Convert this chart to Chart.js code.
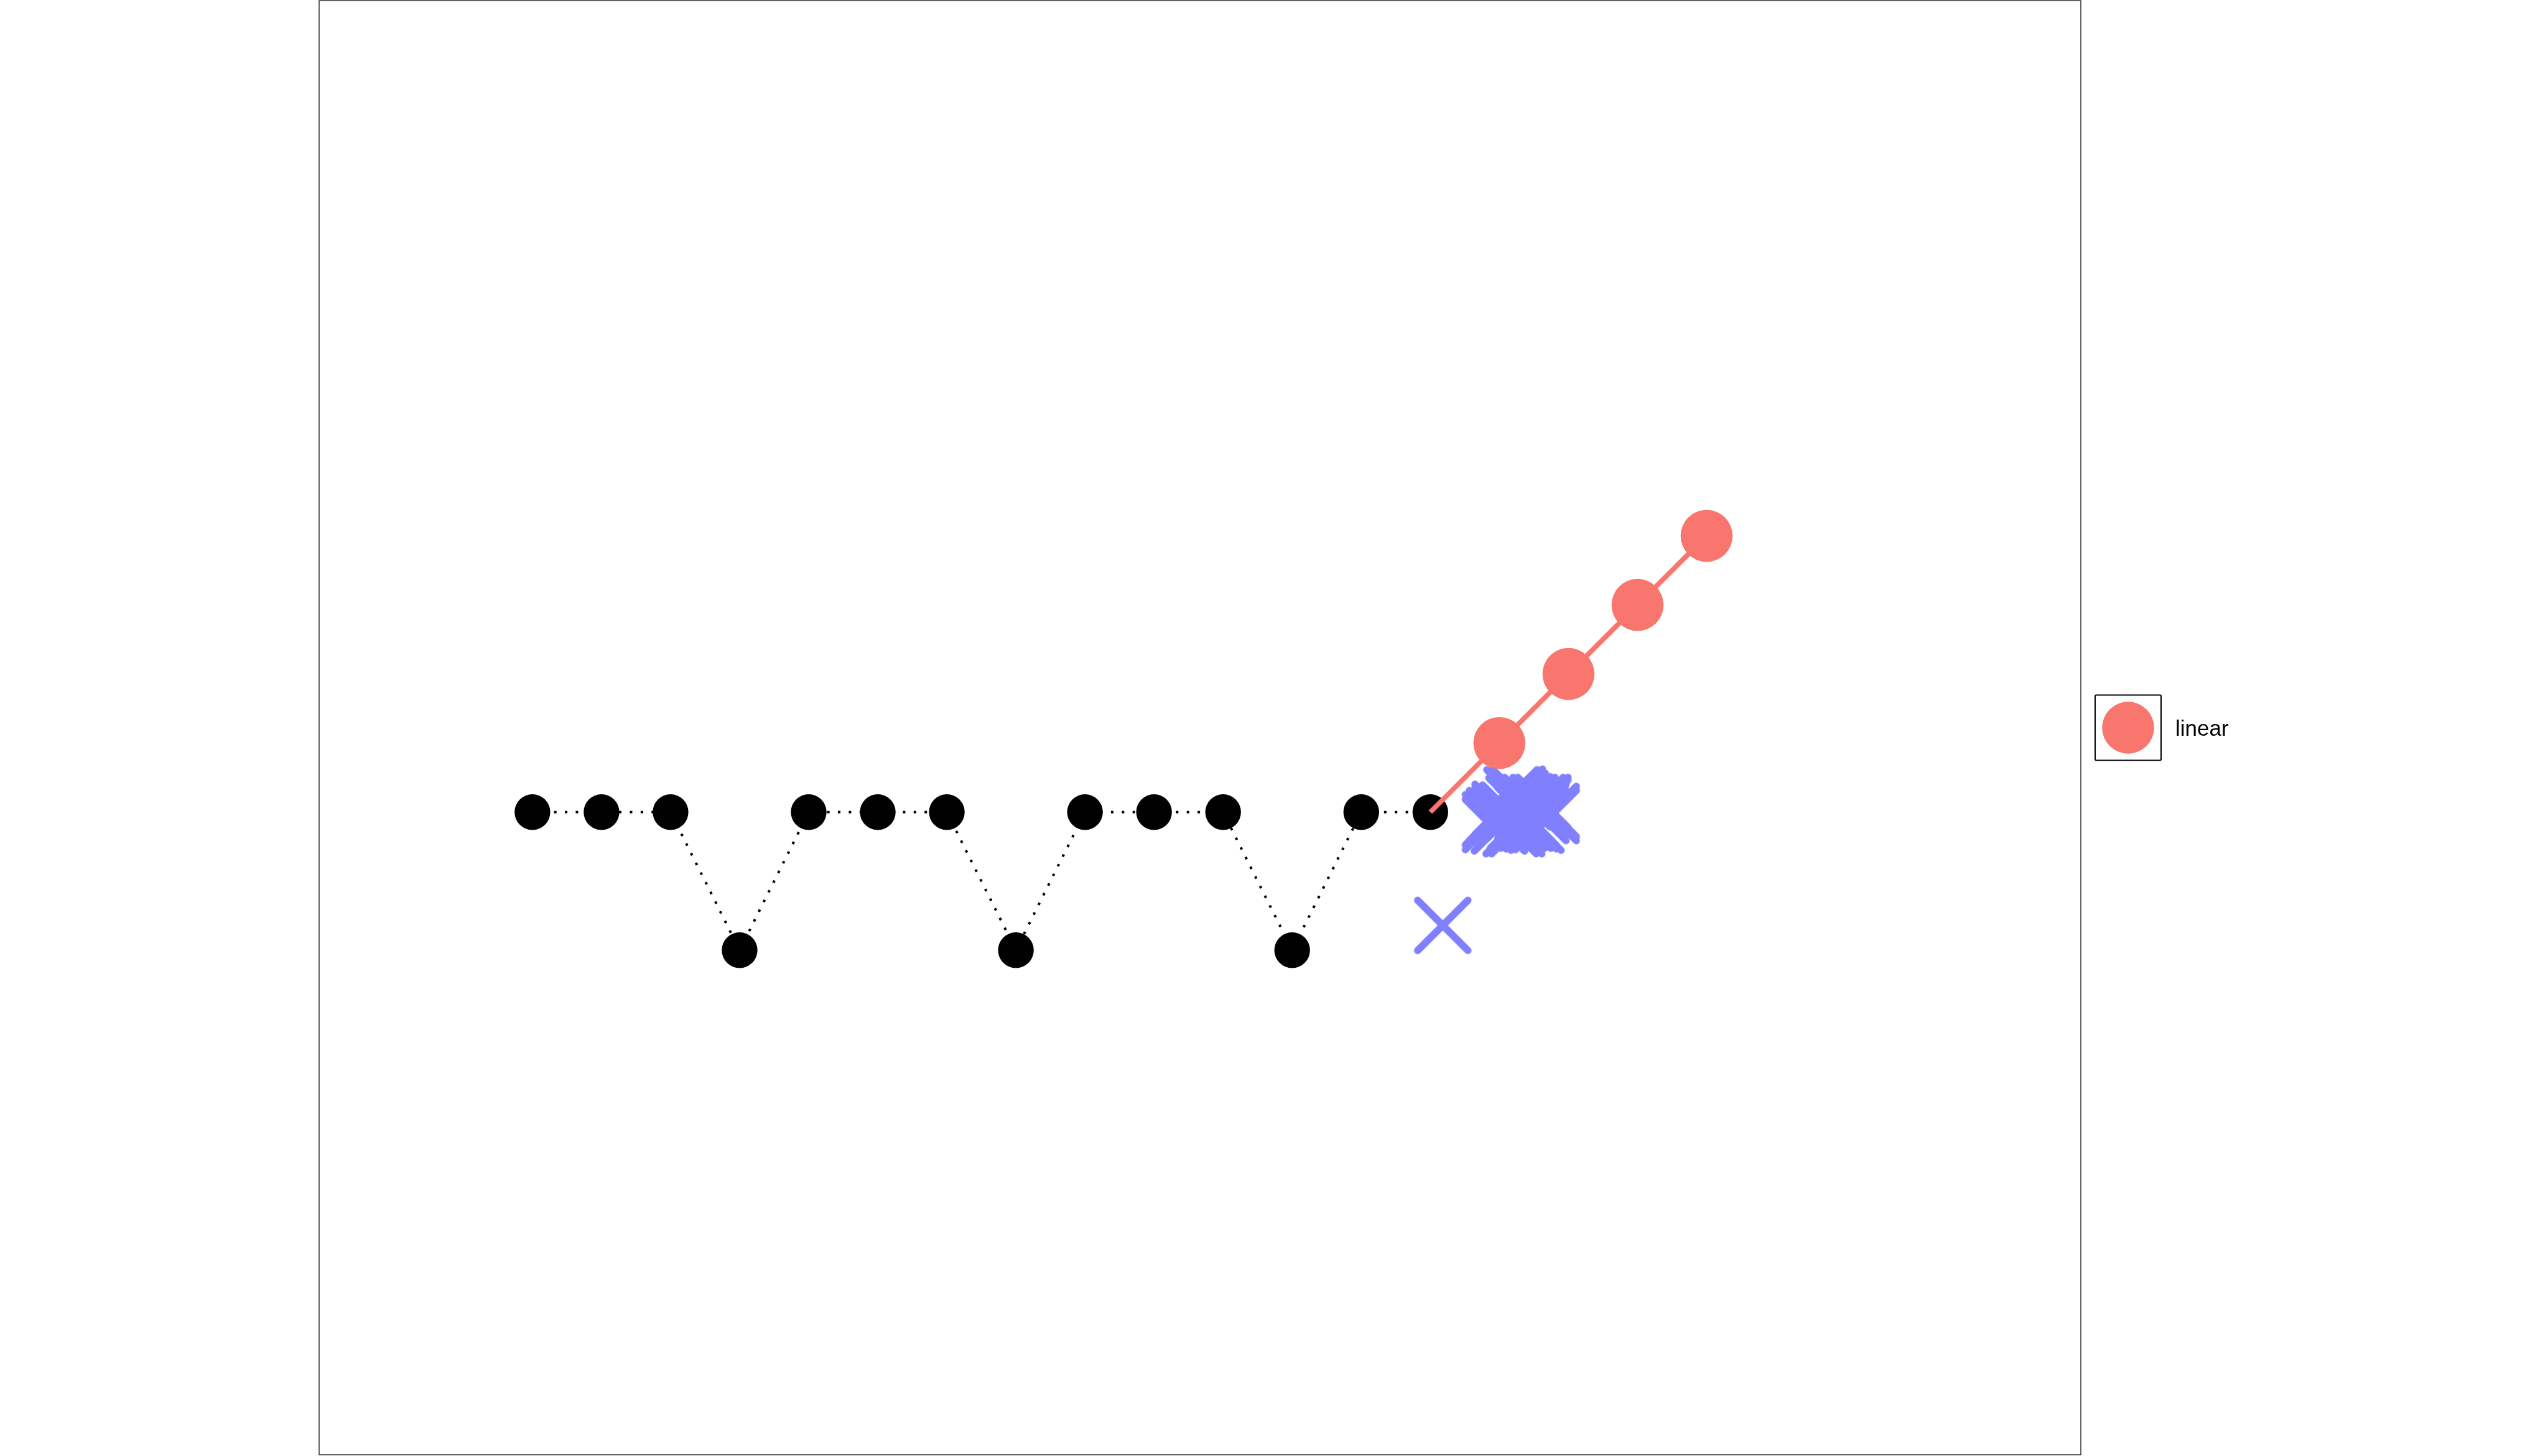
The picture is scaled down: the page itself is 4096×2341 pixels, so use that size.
<!DOCTYPE html>
<html><head><meta charset="utf-8">
<script src="https://cdn.jsdelivr.net/npm/chart.js@4.4.1/dist/chart.umd.min.js"></script>
<style>html,body{margin:0;padding:0;background:#fff;overflow:hidden}canvas{display:block}</style>
</head><body>
<canvas id="c" width="4096" height="2341"></canvas>
<script>
// ---- data ----
const seriesNames = ['linear', 'pattern', 'scatter'];
const patternX = [0,1,2,3,4,5,6,7,8,9,10,11,12,13];
const patternY = [0,0,0,-2,0,0,0,-2,0,0,0,-2,0,0];
const linearX = [13,14,15,16,17];
const linearY = [0,1,2,3,4];
const scatterX = [13.18,14.26,14.30,14.44,14.63,14.60,14.75,14.56,14.18,14.21,14.37,14.01,14.12,13.93,13.87,14.05,13.87,14.00,14.17,14.01,14.23,14.75,14.60,14.63,14.46,14.46,14.29,14.25,14.34,14.41,14.17,14.38,14.53];
const scatterY = [-1.64,0.26,0.20,0.14,0.14,0.03,0.01,0.14,0.25,0.13,0.15,0.04,0.03,-0.05,-0.11,-0.11,-0.18,-0.20,-0.24,-0.01,-0.16,-0.05,-0.05,0.10,-0.17,-0.12,-0.16,-0.24,-0.01,-0.07,-0.03,-0.16,-0.19];
const xRange = [-3.088, 22.418];
const yRange = [-9.306, 11.751];

// ---- styles ----
const RED = '#F8766D', BLUE = '#8080FF', BLACK = '#000000';
function makeCross(arm, lw, color){
  const s = Math.ceil(2*arm + lw + 4);
  const cv = document.createElement('canvas');
  cv.width = s; cv.height = s;
  const g = cv.getContext('2d');
  const c = s/2;
  g.strokeStyle = color; g.lineWidth = lw; g.lineCap = 'round';
  g.beginPath();
  g.moveTo(c-arm, c-arm); g.lineTo(c+arm, c+arm);
  g.moveTo(c+arm, c-arm); g.lineTo(c-arm, c+arm);
  g.stroke();
  return cv;
}
const crossImg = makeCross(40.4, 11.7, BLUE);

const pts = (xs, ys) => xs.map((x, i) => ({x, y: ys[i]}));

const framePlugin = {
  id: 'frame',
  beforeDatasetsDraw(chart){
    const {ctx, chartArea: a} = chart;
    ctx.save();
    ctx.strokeStyle = '#222222';
    ctx.lineWidth = 1.4;
    ctx.strokeRect(a.left, a.top, a.right - a.left, a.bottom - a.top);
    ctx.restore();
  }
};
const legendPlugin = {
  id: 'keyBox',
  afterDraw(chart){
    const {ctx, chartArea: a} = chart;
    const ds = chart.data.datasets[0];
    const cy = (a.top + a.bottom) / 2;
    const bx = 3368, bw = 106, bh = 105, by = cy - bh/2;
    ctx.save();
    ctx.strokeStyle = '#000'; ctx.lineWidth = 2;
    ctx.beginPath();
    if (ctx.roundRect) ctx.roundRect(bx, by, bw, bh, 2); else ctx.rect(bx, by, bw, bh);
    ctx.stroke();
    ctx.fillStyle = ds.backgroundColor;
    ctx.beginPath();
    ctx.arc(bx + bw/2, cy, 41.8, 0, Math.PI*2);
    ctx.fill();
    ctx.fillStyle = '#000';
    ctx.font = '35px "Liberation Sans", Arial, Helvetica, sans-serif';
    ctx.textBaseline = 'alphabetic';
    ctx.fillText(ds.label, 3497, cy + 13);
    ctx.restore();
  }
};

new Chart(document.getElementById('c'), {
  type: 'scatter',
  data: {
    datasets: [
      {
        label: seriesNames[0],
        data: pts(linearX, linearY),
        showLine: true,
        borderColor: RED,
        backgroundColor: RED,
        borderWidth: 8,
        pointRadius: linearX.map((_, i) => i === 0 ? 0 : 41.8),
        pointBorderWidth: 0,
        pointBackgroundColor: RED,
        order: 0
      },
      {
        label: seriesNames[2],
        data: pts(scatterX, scatterY),
        showLine: false,
        pointStyle: crossImg,
        pointRadius: 46,
        order: 1
      },
      {
        label: seriesNames[1],
        data: pts(patternX, patternY),
        showLine: true,
        borderColor: BLACK,
        backgroundColor: BLACK,
        borderWidth: 4,
        borderDash: [4, 13.4],
        pointRadius: 28.7,
        pointBorderWidth: 0,
        pointBackgroundColor: BLACK,
        order: 2
      }
    ]
  },
  options: {
    responsive: false,
    animation: false,
    devicePixelRatio: 1,
    events: [],
    layout: { autoPadding: false, padding: { left: 513, right: 751, top: 1, bottom: 2 } },
    scales: {
      x: { type: 'linear', min: xRange[0], max: xRange[1], display: false },
      y: { type: 'linear', min: yRange[0], max: yRange[1], display: false }
    },
    plugins: { legend: { display: false }, tooltip: { enabled: false } }
  },
  plugins: [framePlugin, legendPlugin]
});
</script>
</body></html>
